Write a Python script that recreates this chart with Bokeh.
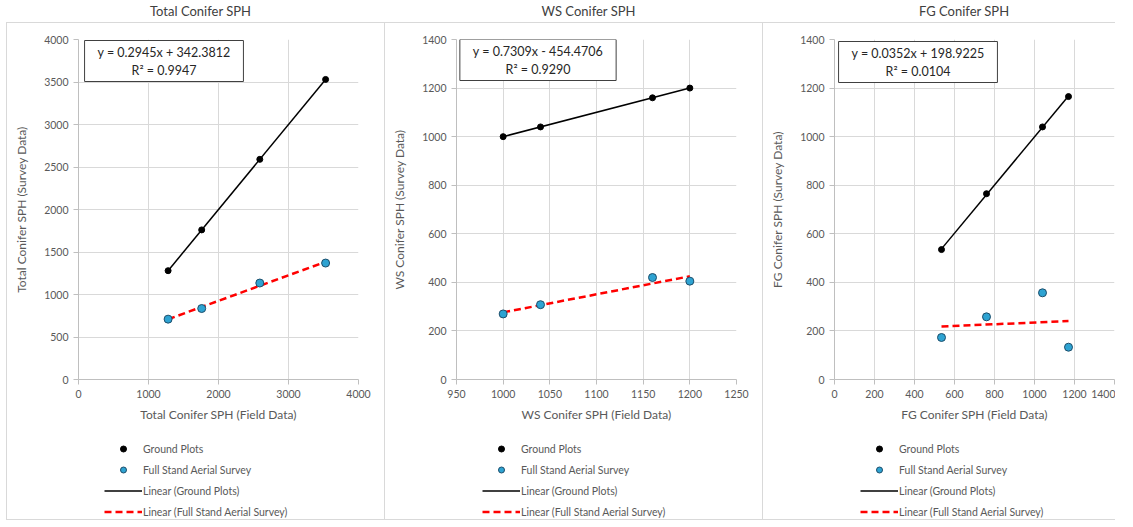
import numpy as np
from bokeh.plotting import figure
from bokeh.models import Legend, LegendItem, Label, FixedTicker, Range1d, Div, Spacer
from bokeh.layouts import row, column
from bokeh.embed import file_html
from bokeh.resources import INLINE

# ---------------- data ----------------
titles = ["Total Conifer SPH", "WS Conifer SPH", "FG Conifer SPH"]
x_titles = ["Total Conifer SPH (Field Data)", "WS Conifer SPH (Field Data)", "FG Conifer SPH (Field Data)"]
y_titles = ["Total Conifer SPH (Survey Data)", "WS Conifer SPH (Survey Data)", "FG Conifer SPH (Survey Data)"]

total_field = [1280, 1760, 2590, 3530]
total_ground = [1280, 1760, 2590, 3530]
total_aerial = [710, 835, 1135, 1370]

ws_field = [1000, 1040, 1160, 1200]
ws_ground = [1000, 1040, 1160, 1200]
ws_aerial = [270, 308, 420, 405]

fg_field = [535, 760, 1040, 1170]
fg_ground = [535, 765, 1040, 1165]
fg_aerial = [173, 258, 357, 133]

equations = ["y = 0.2945x + 342.3812", "y = 0.7309x - 454.4706", "y = 0.0352x + 198.9225"]
r_squared = ["R\u00b2 = 0.9947", "R\u00b2 = 0.9290", "R\u00b2 = 0.0104"]

x_ticks_total = [0, 1000, 2000, 3000, 4000]
y_ticks_total = [0, 500, 1000, 1500, 2000, 2500, 3000, 3500, 4000]
x_ticks_ws = [950, 1000, 1050, 1100, 1150, 1200, 1250]
y_ticks_ws = [0, 200, 400, 600, 800, 1000, 1200, 1400]
x_ticks_fg = [0, 200, 400, 600, 800, 1000, 1200, 1400]
y_ticks_fg = [0, 200, 400, 600, 800, 1000, 1200, 1400]

legend_labels = ["Ground Plots", "Full Stand Aerial Survey",
                 "Linear (Ground Plots)", "Linear (Full Stand Aerial Survey)"]

# ---------------- style ----------------
FONT = "Lato"
TXT = "#595959"
GRID = "#d9d9d9"
AXIS = "#bfbfbf"
BORDER = "#d9d9d9"
AERIAL_FILL = "#2ea3d2"
AERIAL_LINE = "#1d4e6b"
MAIN_H = 404
LEG_H = 92
FRAME_W, FRAME_H = 280, 340
LEFT = 71
TOP = 16


def draw(p, field, ground, aerial):
    fx = np.array(field, dtype=float)
    cg = np.polyfit(fx, np.array(ground, dtype=float), 1)
    ca = np.polyfit(fx, np.array(aerial, dtype=float), 1)
    xs = [float(fx.min()), float(fx.max())]
    lg = p.line(xs, [cg[0] * v + cg[1] for v in xs], line_color="black", line_width=1.5)
    la = p.line(xs, [ca[0] * v + ca[1] for v in xs], line_color="#ff0000", line_width=2.5,
                line_dash="7 4")
    sg = p.scatter(field, ground, size=6, fill_color="black", line_color="black")
    sa = p.scatter(field, aerial, size=8, fill_color=AERIAL_FILL, line_color=AERIAL_LINE,
                   line_width=1)
    return sg, sa, lg, la


def panel(xt, yt, field, ground, aerial, xticks, yticks, eq, r2, width, box_dx, box_dy):
    p = figure(width=width, height=MAIN_H,
               output_backend="svg", toolbar_location=None,
               x_range=Range1d(xticks[0], xticks[-1]), y_range=Range1d(yticks[0], yticks[-1]),
               min_border_left=LEFT, min_border_right=width - LEFT - FRAME_W,
               min_border_top=TOP, min_border_bottom=MAIN_H - TOP - FRAME_H,
               outline_line_color=None, background_fill_color="white",
               border_fill_color="white")
    p.xaxis.ticker = FixedTicker(ticks=xticks)
    p.yaxis.ticker = FixedTicker(ticks=yticks)
    for ax in (p.xaxis[0], p.yaxis[0]):
        ax.axis_line_color = AXIS
        ax.major_tick_line_color = AXIS
        ax.major_tick_out = 5
        ax.major_tick_in = 0
        ax.minor_tick_line_color = None
        ax.major_label_text_font = FONT
        ax.major_label_text_font_size = "10.5px"
        ax.major_label_text_color = TXT
        ax.axis_label_text_font = FONT
        ax.axis_label_text_font_size = "12px"
        ax.axis_label_text_color = TXT
        ax.axis_label_text_font_style = "normal"
        ax.major_label_standoff = 5
    p.xaxis.axis_label = xt
    p.yaxis.axis_label = yt
    p.xaxis.axis_label_standoff = 6
    p.yaxis.axis_label_standoff = 12
    p.xgrid.grid_line_color = GRID
    p.ygrid.grid_line_color = GRID

    draw(p, field, ground, aerial)

    # equation box (text of the aerial trendline)
    x0, x1 = xticks[0], xticks[-1]
    y0, y1 = yticks[0], yticks[-1]
    lab = Label(x=x0 + (x1 - x0) * box_dx / FRAME_W,
                y=y1 - (y1 - y0) * box_dy / FRAME_H,
                text=eq + "\n" + r2, text_align="center", text_baseline="top",
                text_font=FONT, text_font_size="12.5px", text_color="#262626",
                background_fill_color="white", border_line_color="#404040",
                border_line_width=1, padding=(13, 4))
    p.add_layout(lab)

    # legend strip below the chart (same series, drawn outside its view ranges)
    q = figure(width=width, height=LEG_H, output_backend="svg", toolbar_location=None,
               x_range=Range1d(-2, -1), y_range=Range1d(-2, -1),
               x_axis_type=None, y_axis_type=None, min_border=0,
               outline_line_color=None, border_fill_color="white",
               background_fill_color="white")
    q.xgrid.visible = False
    q.ygrid.visible = False
    sg, sa, lg, la = draw(q, field, ground, aerial)
    legend = Legend(items=[LegendItem(label=legend_labels[0], renderers=[sg]),
                           LegendItem(label=legend_labels[1], renderers=[sa]),
                           LegendItem(label=legend_labels[2], renderers=[lg]),
                           LegendItem(label=legend_labels[3], renderers=[la])],
                    location=(26, 0), orientation="vertical",
                    border_line_color=None, background_fill_alpha=0,
                    label_text_font=FONT, label_text_font_size="10.5px",
                    label_text_color=TXT, glyph_width=38, glyph_height=15,
                    label_height=15, label_standoff=1, spacing=6,
                    padding=0, margin=0)
    q.add_layout(legend)
    return column(p, q, spacing=0)


widths = [377, 377, 352]
c1 = panel(x_titles[0], y_titles[0], total_field, total_ground, total_aerial,
           x_ticks_total, y_ticks_total, equations[0], r_squared[0], widths[0], 85.5, 1)
c2 = panel(x_titles[1], y_titles[1], ws_field, ws_ground, ws_aerial,
           x_ticks_ws, y_ticks_ws, equations[1], r_squared[1], widths[1], 81.5, 0)
c3 = panel(x_titles[2], y_titles[2], fg_field, fg_ground, fg_aerial,
           x_ticks_fg, y_ticks_fg, equations[2], r_squared[2], widths[2], 83.5, 2)

PANEL_H = MAIN_H + LEG_H


def vline():
    return Spacer(width=1, height=PANEL_H, styles={"background-color": BORDER})


divs = [Div(text=t, width=w, height=12,
            styles={"text-align": "center", "font-family": FONT, "font-size": "13px",
                    "line-height": "12px", "color": "#404040"})
        for t, w in zip(titles, widths)]

total_w = 1 + sum(widths) + 2
title_row = row(Spacer(width=1, height=12), divs[0], Spacer(width=1, height=12), divs[1],
                Spacer(width=1, height=12), divs[2], spacing=0)
top_line = Spacer(width=total_w, height=1, styles={"background-color": BORDER})
fig_row = row(vline(), c1, vline(), c2, vline(), c3, spacing=0)
bottom_line = Spacer(width=total_w, height=1, styles={"background-color": BORDER})
inner = column(title_row, top_line, fig_row, bottom_line, spacing=0)
layout = row(Spacer(width=6, height=10), inner, spacing=0)
open("out.html", "w").write(file_html(layout, INLINE))
